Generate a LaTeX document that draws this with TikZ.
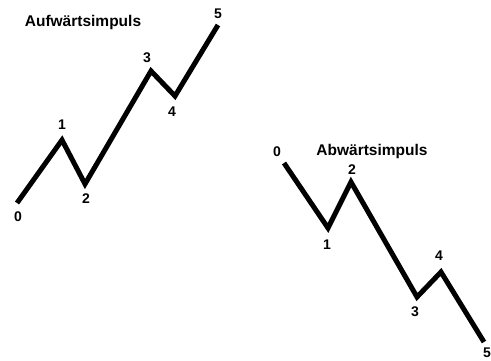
\documentclass[tikz,border=0pt]{standalone}
\usepackage{fontspec}
\setmainfont{Liberation Sans}
\usepackage{xcolor}
\usetikzlibrary{positioning}

\tikzset{
  wave/.style={line width=5pt, line join=miter, black},
  lbl/.style={font=\fontsize{14}{14}\selectfont\bfseries, inner sep=0pt},
  ttl/.style={font=\fontsize{15.5}{16}\selectfont\bfseries, inner sep=0pt}
}

\begin{document}
\begin{tikzpicture}[x=1pt, y=-1pt]
\useasboundingbox (0,0) rectangle (491,360);

% === Left: Aufwaertsimpuls ===
\node[ttl] (tup) at (83,22) {Aufwärtsimpuls};
\coordinate (u0) at (17,203);
\coordinate (u1) at (62,140);
\coordinate (u2) at (85,184);
\coordinate (u3) at (151,71);
\coordinate (u4) at (175,96);
\coordinate (u5) at (218,25);
\draw[wave] (u0) -- (u1) -- (u2) -- (u3) -- (u4) -- (u5);

\node[lbl] (lu0) at (18,217) {0};
\node[lbl] (lu1) at (62,125) {1};
\node[lbl] (lu2) at (86,199) {2};
\node[lbl] (lu3) at (147,58) {3};
\node[lbl] (lu4) at (172,112) {4};
\node[lbl] (lu5) at (218,14) {5};

% === Right: Abwaertsimpuls ===
\node[ttl] (tdown) at (372,151) {Abwärtsimpuls};
\coordinate (d0) at (284,163);
\coordinate (d1) at (328,228);
\coordinate (d2) at (351,182);
\coordinate (d3) at (417,297);
\coordinate (d4) at (441,272);
\coordinate (d5) at (484,342);
\draw[wave] (d0) -- (d1) -- (d2) -- (d3) -- (d4) -- (d5);

\node[lbl] (ld0) at (277,152) {0};
\node[lbl] (ld1) at (327,245) {1};
\node[lbl] (ld2) at (352,170) {2};
\node[lbl] (ld3) at (415,312) {3};
\node[lbl] (ld4) at (439,256) {4};
\node[lbl] (ld5) at (487,353) {5};

\end{tikzpicture}
\end{document}
